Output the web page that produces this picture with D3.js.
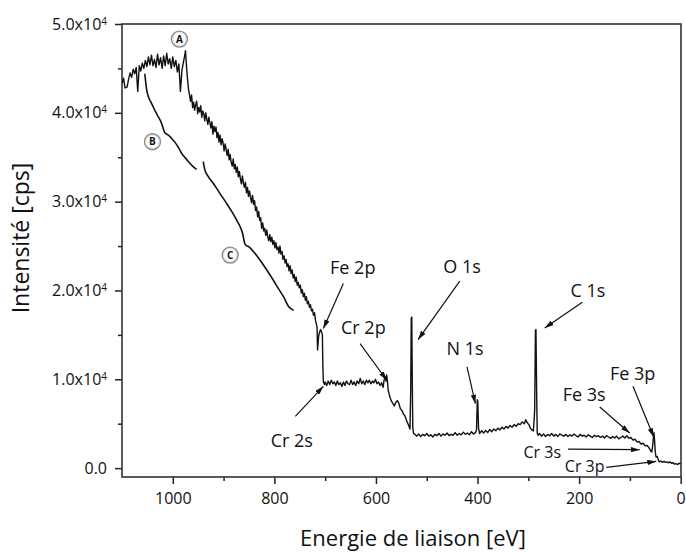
<!DOCTYPE html>
<html><head><meta charset="utf-8">
<script src="https://cdn.jsdelivr.net/npm/d3@7"></script>
<style>
body{margin:0;background:#fff}
svg{display:block}
text{font-family:"Open Sans",sans-serif;fill:#111}
</style>
</head><body>
<svg id="c" width="686" height="553"></svg>
<script>
// XPS survey spectrum: [binding energy eV, intensity cps]
const spectrum = [
[1100,43300],[1097,43900],[1094,42800],[1090,42900],[1087,43800],[1084,44500],[1081,44000],[1078,44900],[1075,44400],[1072,45100],
[1069,42400],[1066,45300],[1063,44700],[1060,45600],[1057,45000],[1054,45900],[1051,45200],[1048,46300],[1045,45400],[1042,46500],
[1039,45300],[1036,46000],[1033,45100],[1030,46600],[1027,45400],[1024,46200],[1021,45000],[1018,46400],[1015,45300],[1012,46700],
[1009,45500],[1006,46100],[1003,45000],[1000,46300],[997,45200],[994,45900],[991,44600],[988,45500],[985,42400],[982,44800],
[979,45700],[977,46300],[975,47000],[973,45200],[971,43800],[969,42600],
[967,42000],[965,41300],[963,42000],[961,40600],[959,41200],[957,40300],[955,40900],[953,41300],[951,39900],[949,40600],
[947,40100],[945,40800],[943,39500],[941,40200],[939,39900],[937,39100],[935,40000],[933,39300],[931,38700],[929,39500],
[927,38900],[925,38300],[923,39000],[921,37600],[919,38500],[917,37900],[915,38400],[913,37200],[911,37800],[909,36700],
[907,37500],[905,36400],[903,37100],[901,36600],[899,35700],[897,36500],[895,35900],[893,35200],[891,35900],[889,34700],
[887,35300],[885,34400],[883,34000],[881,34800],[879,33700],[877,34200],[875,33300],[873,33900],[871,32800],[869,33400],
[867,32600],[865,32000],[863,32900],[861,32100],[859,31600],[857,32200],[855,31000],[853,31600],[851,30600],[849,31200],
[847,30500],[845,29900],[843,30700],[841,29700],[839,30100],[837,29000],[835,29400],[833,28300],[831,28900],[829,27900],
[827,28200],[825,27000],[823,27600],[821,26700],[819,27000],[817,26200],[815,26800],[813,26000],[811,25600],[809,26300],
[807,25500],[805,26000],[803,25200],[801,25600],[799,24800],[797,25400],[795,24600],[793,24900],[791,24200],[789,25000],
[787,24100],[785,24400],[783,23500],[781,23900],[779,23100],[777,23500],[775,22700],[773,23000],[771,22200],[769,22800],
[767,21900],[765,22300],[763,21400],[761,21800],[759,21000],[757,21500],[755,20600],[753,20900],[751,20300],[749,20600],
[747,19700],[745,20100],[743,19300],[741,19700],[739,18900],[737,19300],[735,18500],[733,18800],[731,18100],[729,18400],
[727,17700],[725,17900],[723,17200],[721,17500],[719,16600],[718,16400],
[716,15900],[715,13300],[713,14800],[711,15300],[709,15600],[707,15300],[705.5,15000],
[704.5,11500],[703.5,9700],[701,9400],[700,9700],[697,9300],[694,9800],[691,9400],[688,9900],[685,9500],[682,9700],
[679,9300],[676,9800],[673,9400],[670,9600],[667,9200],[664,9700],[661,9300],[658,9800],[655,9500],[652,9400],
[649,9900],[646,9400],[643,9700],[640,9300],[637,9800],[634,9500],[631,10100],[628,9500],[625,9800],[622,9400],
[619,9900],[616,9600],[613,9900],[610,9500],[607,9800],[604,9600],[601,10000],[598,9500],[595,9700],[592,9300],
[589,9600],[586,9100],[584,9900],[582,10300],[580,9800],[579,10500],[577,9600],[576,8800],[573,8100],[570,7600],
[567,7300],[564,7000],[561,7400],[558,7600],[555,7300],[552,6700],[549,6500],[546,6100],[543,5900],[540,5400],
[537,5000],[535,4700],[533,4400],[531.5,9000],[530.5,16900],[529.5,17000],[528.5,10000],[527.5,4600],[526,3900],
[524,3850],[520,3600],[516,3850],[512,3550],[508,3800],[504,3650],[500,3900],[496,3600],[492,3750],[488,3500],
[484,3800],[480,3650],[476,3900],[472,3600],[468,3850],[464,3700],[460,3950],[456,3650],[452,3800],[448,3700],
[444,4000],[440,3700],[436,3900],[432,3750],[428,4050],[424,3800],[420,3950],[416,3750],[412,4100],[408,3850],
[404,4000],[402,4300],[400.5,7700],[399.5,7500],[398,4500],[396,3900],[392,4200],[388,3950],[384,4250],[380,4000],
[376,4350],[372,4100],[368,4400],[364,4200],[360,4500],[356,4300],[352,4600],[348,4400],[344,4700],[340,4500],
[336,4800],[332,4600],[328,4900],[324,4700],[320,5000],[316,4900],[312,5200],[308,5000],[305,5450],[302,5100],
[299,4900],[296,4500],[293,4300],[290,4200],[287.5,6500],[286,15500],[285,15600],[283.5,8000],[282.5,4000],[281,3700],
[278,3900],[274,3600],[270,3850],[266,3550],[262,3800],[258,3650],[254,3900],[250,3600],[246,3800],[242,3550],
[238,3850],[234,3700],[230,3600],[226,3800],[222,3550],[218,3750],[214,3600],[210,3850],[206,3650],[202,3500],
[198,3800],[194,3600],[190,3700],[186,3500],[182,3750],[178,3600],[174,3450],[170,3700],[166,3550],[162,3650],
[158,3450],[154,3600],[150,3400],[146,3650],[142,3500],[138,3350],[134,3550],[130,3400],[126,3600],[122,3300],
[118,3450],[114,3600],[110,3400],[106,3650],[102,3350],[98,3450],[94,3150],[90,3250],[86,2950],[82,3000],
[78,2700],[74,2800],[70,2500],[66,2550],[62,2250],[59,1950],[57,1800],[55,2600],[53.5,3600],[52.5,4000],
[51.5,3200],[50,1800],[48.5,1250],[46,1300],[44,900],[42,700],[39,800],[36,650],[33,750],[30,650],
[27,700],[24,600],[21,700],[18,550],[15,600],[12,450],[9,500],[6,400],[3,550],[0,500]
];

// Background curve B
const curveB = [
[1055,44400],[1052,42800],[1048,41800],[1043,41200],[1038,40600],[1030,39700],[1022,38800],[1018,38100],
[1016,37800],[1012,37600],[1008,37450],[1002,37100],[996,36700],[989,36100],[982,35400],[975,34900],
[969,34500],[961,34000],[953,33640]
];
// Background curve C
const curveC = [
[940,34500],[937,33600],[931,32900],[920,32050],[907,30900],[894,29800],[884,28900],[874,27900],
[866,27000],[862,26300],[859,25400],[856,25100],[850,24900],[840,24300],[828,23400],[815,22300],
[802,21150],[792,20200],[782,19300],[772,18200],[766,17900],[762,17780]
];

const xMajorTicks = [1000,800,600,400,200,0];
const xMinorTicks = [900,700,500,300,100];
const yMajorTicks = [0,10000,20000,30000,40000,50000];
const yMajorLabels = ["0.0","1.0x10","2.0x10","3.0x10","4.0x10","5.0x10"];
const yExponent = ["","4","4","4","4","4"];
const yMinorTicks = [5000,15000,25000,35000,45000];

// Peak annotations: label, label position, arrow start -> arrow tip (data units)
const peakNames  = ["Fe 2p","Cr 2p","O 1s","Cr 2s","N 1s","C 1s","Fe 3p","Fe 3s","Cr 3s","Cr 3p"];
const labelAt    = [[645.7,21840],[624.8,15150],[430.5,21950],[765.7,2368],[424.6,12785],[182.5,19280],[94.5,9890],[190,7520],[272.6,1127],[189,-485]];
const arrowFrom  = [[664.2,20790],[631.3,14025],[435,21050],[758.7,5830],[420.7,11390],[193.7,18680],[93.9,9210],[159.4,6880],[221.8,2140],[146.5,79]];
const arrowTo    = [[703.5,15720],[578.7,9890],[517.1,14475],[703.5,9210],[404.3,7260],[267.7,15780],[53.2,3495],[100.4,3945],[80.7,2075],[48,755]];
const smallLabel = [false,false,false,false,false,false,false,false,true,true];

// Region markers
const regionNames = ["A","B","C"];
const regionAt = [[987,48300],[1040,36750],[887,23980]];

const svg = d3.select("#c");
const L=122, R=681, T=24, B=477;
const x = d3.scaleLinear().domain([1100,0]).range([L,680.7]);
const y = d3.scaleLinear().domain([-1000,50000]).range([B,T]);

// arrow marker
svg.append("defs").append("marker")
  .attr("id","ah").attr("viewBox","0 0 10 6").attr("refX",10).attr("refY",3)
  .attr("markerUnits","userSpaceOnUse").attr("markerWidth",9).attr("markerHeight",5.4)
  .attr("orient","auto")
  .append("path").attr("d","M0,0L10,3L0,6Z").attr("fill","#111");

// axes
const gx = svg.append("g").attr("transform",`translate(0,${B})`)
  .call(d3.axisBottom(x).tickValues(xMajorTicks).tickSize(7).tickPadding(9).tickFormat(d3.format("d")));
const gxm = svg.append("g").attr("transform",`translate(0,${B})`)
  .call(d3.axisBottom(x).tickValues(xMinorTicks).tickSize(4).tickFormat(""));
const gy = svg.append("g").attr("transform",`translate(${L},0)`)
  .call(d3.axisLeft(y).tickValues(yMajorTicks).tickSize(7).tickPadding(8).tickFormat(""));
const gym = svg.append("g").attr("transform",`translate(${L},0)`)
  .call(d3.axisLeft(y).tickValues(yMinorTicks).tickSize(4).tickFormat(""));
[gx,gxm,gy,gym].forEach(g=>{
  g.select(".domain").remove();
  g.selectAll(".tick line").attr("stroke","#222").attr("stroke-width",1.5);
});
gx.selectAll(".tick text").attr("font-size",16).attr("font-family","Open Sans").attr("fill","#111");

gy.selectAll(".tick text").each(function(d,i){
  const t = d3.select(this).attr("font-size",16).attr("font-family","Open Sans").attr("fill","#111");
  t.text(null);
  t.append("tspan").text(yMajorLabels[i]);
  if (yExponent[i]) t.append("tspan").attr("font-size",10).attr("dy","-0.5em").text(yExponent[i]);
});

// frame
svg.append("rect").attr("x",L).attr("y",T).attr("width",R-L).attr("height",B-T)
  .attr("fill","none").attr("stroke","#333").attr("stroke-width",1.6);

// clip
svg.append("clipPath").attr("id","clip").append("rect").attr("x",L).attr("y",T).attr("width",R-L).attr("height",B-T);

const line = d3.line().x(d=>x(d[0])).y(d=>y(d[1]));
const smooth = d3.line().x(d=>x(d[0])).y(d=>y(d[1])).curve(d3.curveMonotoneX);

svg.append("path").datum(spectrum).attr("clip-path","url(#clip)")
  .attr("d",line).attr("fill","none").attr("stroke","#111").attr("stroke-width",1.4).attr("stroke-linejoin","round");
svg.append("path").datum(curveB).attr("d",smooth).attr("fill","none").attr("stroke","#111").attr("stroke-width",1.6);
svg.append("path").datum(curveC).attr("d",smooth).attr("fill","none").attr("stroke","#111").attr("stroke-width",1.6);

// annotations
peakNames.forEach((name,i)=>{
  svg.append("line")
    .attr("x1",x(arrowFrom[i][0])).attr("y1",y(arrowFrom[i][1]))
    .attr("x2",x(arrowTo[i][0])).attr("y2",y(arrowTo[i][1]))
    .attr("stroke","#111").attr("stroke-width",1.2).attr("marker-end","url(#ah)");
  svg.append("text").attr("x",x(labelAt[i][0])).attr("y",y(labelAt[i][1]))
    .attr("text-anchor","middle").attr("font-size",smallLabel[i]?16:18).text(name);
});

regionNames.forEach((n,i)=>{
  const cx = x(regionAt[i][0]), cy = y(regionAt[i][1]);
  svg.append("circle").attr("cx",cx).attr("cy",cy).attr("r",8)
    .attr("fill","#fff").attr("stroke","#8a8a8a").attr("stroke-width",1.4);
  svg.append("circle").attr("cx",cx).attr("cy",cy).attr("r",6.6)
    .attr("fill","none").attr("stroke","#d0d0d0").attr("stroke-width",0.8);
  svg.append("text").attr("x",cx).attr("y",cy).attr("dy","0.36em").attr("text-anchor","middle")
    .attr("font-family","DejaVu Serif, Liberation Serif, serif").attr("font-weight","bold")
    .attr("font-size",10).attr("fill","#333").text(n);
});

// axis titles
svg.append("text").attr("x",413).attr("y",546).attr("text-anchor","middle")
  .attr("font-size",22).text("Energie de liaison [eV]");
svg.append("text").attr("transform","translate(29,238) rotate(-90)").attr("text-anchor","middle")
  .attr("font-size",23).text("Intensité [cps]");
</script>
</body></html>
